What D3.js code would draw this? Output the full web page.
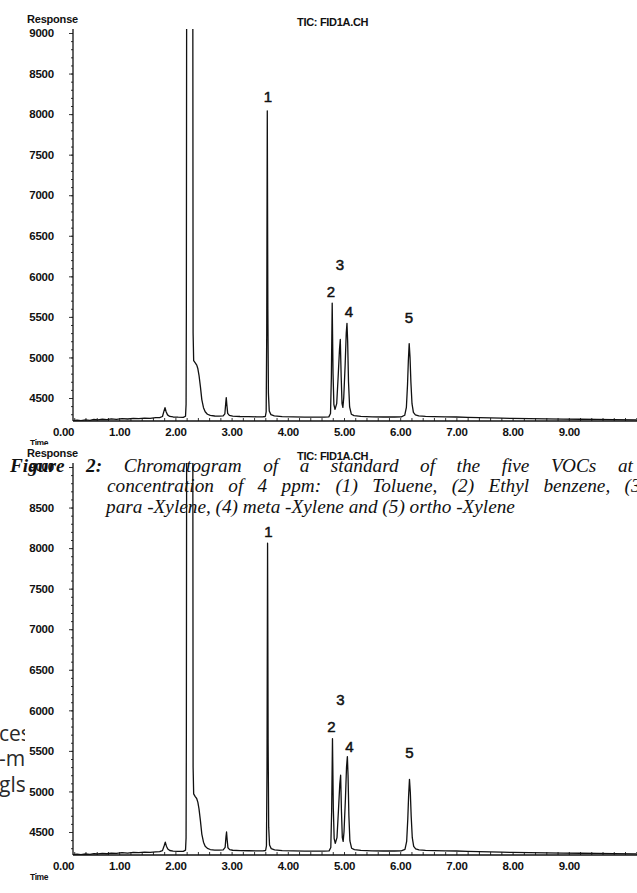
<!DOCTYPE html>
<html><head><meta charset="utf-8">
<script src="https://cdn.jsdelivr.net/npm/d3@7"></script>
<style>html,body{margin:0;padding:0;background:#fff}</style>
</head><body>
<svg id="c" width="637" height="893"></svg>
<script>
// ---------------- DATA ----------------
const xTickValues = [0,1,2,3,4,5,6,7,8,9];
const xTickLabels = ["0.00","1.00","2.00","3.00","4.00","5.00","6.00","7.00","8.00","9.00"];
const yTickValues = [4500,5000,5500,6000,6500,7000,7500,8000,8500,9000];
const yTickLabels = ["4500","5000","5500","6000","6500","7000","7500","8000","8500","9000"];
const peakLabels = ["1","2","3","4","5"];
const topLabelTime = [3.648,4.769,4.929,5.089,6.157];
const topLabelResp = [8211,5807,6140,5560,5486];
const bottomLabelTime = [3.655,4.775,4.935,5.095,6.165];
const bottomLabelResp = [8200,5800,6130,5550,5480];

// chromatogram trace: [time (min), response]
const topTrace = [[0.18,4222],[0.25,4227],[0.32,4221],[0.40,4230],[0.48,4225],[0.55,4235],[0.62,4230],[0.70,4238],[0.78,4233],[0.86,4242],[0.95,4237],[1.05,4246],[1.15,4241],[1.25,4250],[1.35,4246],[1.45,4253],[1.55,4250],[1.65,4257],[1.72,4258],[1.77,4272],[1.795,4335],[1.815,4380],[1.835,4330],[1.86,4292],[1.90,4273],[1.96,4266],[2.05,4263],[2.14,4262],[2.18,4275],[2.19,4420],[2.195,5600],[2.20,9300],[2.23,20000],[2.275,25000],[2.30,12000],[2.31,9300],[2.315,5300],[2.325,4960],[2.35,4935],[2.38,4905],[2.40,4860],[2.42,4780],[2.445,4640],[2.47,4480],[2.50,4380],[2.53,4330],[2.57,4300],[2.62,4285],[2.70,4278],[2.78,4276],[2.85,4279],[2.88,4305],[2.895,4430],[2.905,4505],[2.915,4420],[2.93,4310],[2.96,4285],[3.02,4276],[3.15,4272],[3.30,4270],[3.45,4268],[3.55,4268],[3.60,4272],[3.615,4330],[3.625,5300],[3.635,8040],[3.645,5600],[3.655,4560],[3.67,4340],[3.70,4295],[3.76,4280],[3.90,4271],[4.10,4267],[4.30,4265],[4.50,4264],[4.65,4264],[4.73,4267],[4.76,4310],[4.775,4750],[4.79,5670],[4.805,4800],[4.82,4420],[4.84,4360],[4.87,4430],[4.895,4750],[4.92,5100],[4.934,5222],[4.95,4760],[4.965,4430],[4.98,4385],[4.995,4500],[5.02,4900],[5.04,5300],[5.053,5420],[5.065,5200],[5.08,4700],[5.10,4390],[5.13,4300],[5.18,4282],[5.30,4273],[5.50,4268],[5.70,4266],[5.90,4266],[6.02,4268],[6.08,4287],[6.11,4385],[6.13,4660],[6.145,4960],[6.16,5170],[6.175,5000],[6.19,4700],[6.21,4430],[6.235,4322],[6.27,4292],[6.33,4279],[6.45,4273],[6.60,4270],[6.80,4268],[7.00,4266],[7.20,4262],[7.40,4258],[7.60,4255],[7.80,4251],[8.00,4248],[8.30,4245],[8.60,4243],[8.90,4240],[9.20,4238],[9.50,4236],[9.80,4233],[10.2,4231]];

const bottomTrace = [[0.18,4220],[0.25,4226],[0.32,4222],[0.40,4229],[0.48,4224],[0.55,4233],[0.62,4229],[0.70,4237],[0.78,4232],[0.86,4240],[0.95,4236],[1.05,4245],[1.15,4240],[1.25,4249],[1.35,4245],[1.45,4252],[1.55,4249],[1.65,4256],[1.72,4258],[1.77,4270],[1.80,4330],[1.82,4375],[1.84,4325],[1.865,4290],[1.90,4272],[1.96,4265],[2.05,4262],[2.14,4262],[2.18,4276],[2.19,4430],[2.195,5700],[2.20,9300],[2.23,20000],[2.275,25000],[2.30,12000],[2.31,9300],[2.315,5300],[2.325,4970],[2.35,4940],[2.38,4910],[2.40,4865],[2.42,4785],[2.445,4640],[2.47,4475],[2.50,4375],[2.53,4325],[2.57,4298],[2.62,4284],[2.70,4277],[2.78,4276],[2.85,4279],[2.885,4310],[2.90,4440],[2.91,4500],[2.92,4410],[2.935,4305],[2.965,4283],[3.02,4275],[3.15,4271],[3.30,4269],[3.45,4268],[3.56,4268],[3.605,4272],[3.62,4330],[3.63,5300],[3.64,8060],[3.65,5600],[3.66,4560],[3.675,4340],[3.705,4295],[3.765,4280],[3.90,4271],[4.10,4267],[4.30,4265],[4.50,4264],[4.65,4264],[4.735,4267],[4.765,4310],[4.78,4750],[4.795,5650],[4.81,4790],[4.825,4420],[4.845,4360],[4.875,4430],[4.90,4750],[4.925,5090],[4.94,5200],[4.955,4750],[4.97,4430],[4.985,4385],[5.00,4500],[5.025,4900],[5.045,5300],[5.06,5430],[5.072,5200],[5.087,4700],[5.105,4390],[5.135,4300],[5.185,4282],[5.30,4273],[5.50,4268],[5.70,4266],[5.90,4266],[6.02,4268],[6.085,4287],[6.115,4385],[6.135,4660],[6.15,4950],[6.165,5150],[6.18,4990],[6.195,4700],[6.215,4430],[6.24,4322],[6.275,4292],[6.335,4279],[6.45,4273],[6.60,4270],[6.80,4268],[7.00,4266],[7.20,4262],[7.40,4258],[7.60,4255],[7.80,4251],[8.00,4248],[8.30,4245],[8.60,4243],[8.90,4240],[9.20,4238],[9.50,4236],[9.80,4233],[10.2,4231]];

const captionLine1 = ["Figure","2:","Chromatogram","of","a","standard","of","the","five","VOCs","at","a"];
const captionLine2 = ["concentration","of","4","ppm:","(1)","Toluene,","(2)","Ethyl","benzene,","(3)"];
const captionLine3 = "para -Xylene, (4) meta -Xylene and (5) ortho -Xylene";
const slideFragments = ["ces","-m","gls"];

// ---------------- LAYOUT ----------------
const W = 637, H = 893;
const bottomOffset = 434;
const axisX = 73, axisTop = 29, axisBottom = 421;
const svg = d3.select("#c");
svg.append("rect").attr("width", W).attr("height", H).attr("fill", "#fff");

const x = d3.scaleLinear().domain([0, 10]).range([63, 625]);
const y = d3.scaleLinear().domain([4500, 9000]).range([398, 33]);

svg.append("defs").append("clipPath").attr("id", "plotclip")
  .append("rect").attr("x", axisX).attr("y", axisTop).attr("width", W - axisX).attr("height", axisBottom - axisTop);

// slide text fragments behind the lower chart
const slideY = [741, 766, 792];
const slide = svg.append("g")
  .attr("font-family", "'Open Sans','Liberation Sans',sans-serif")
  .attr("font-size", 21).attr("fill", "#2a2a2a");
slideFragments.forEach((s, i) => slide.append("text").attr("x", -1).attr("y", slideY[i]).text(s));

function panel(g, trace, lblT, lblV, withBg) {
  if (withBg) g.append("rect").attr("x", 25).attr("y", 11).attr("width", W - 25).attr("height", H).attr("fill", "#fff");
  const txt = s => s.attr("font-family", "'Liberation Sans',Arial,sans-serif").attr("font-weight", "bold").attr("fill", "#111");
  txt(g.append("text").attr("x", 27).attr("y", 23).attr("font-size", 11).attr("letter-spacing", -0.2).text("Response"));
  txt(g.append("text").attr("x", 297).attr("y", 26).attr("font-size", 11).attr("letter-spacing", -0.3).text("TIC: FID1A.CH"));
  txt(g.append("text").attr("x", 30).attr("y", 446).attr("font-size", 8.5).attr("letter-spacing", -0.4).text("Time"));

  // y axis
  const yMinor = d3.axisLeft(y).tickValues(d3.range(4300, 9001, 100)).tickSize(2).tickFormat("");
  const ym = g.append("g").attr("transform", `translate(${axisX},0)`).call(yMinor);
  ym.select(".domain").remove();
  const yAx = d3.axisLeft(y).tickValues(yTickValues).tickSize(4).tickPadding(15)
    .tickFormat((d, i) => yTickLabels[i]);
  const ya = g.append("g").attr("transform", `translate(${axisX},0)`).call(yAx);
  ya.select(".domain").remove();
  ya.selectAll("text").call(txt).attr("font-size", 11.5).attr("letter-spacing", -0.2);
  g.append("line").attr("x1", axisX).attr("x2", axisX).attr("y1", axisTop).attr("y2", axisBottom)
    .attr("stroke", "#111").attr("stroke-width", 1.3);

  // x axis
  const xMinor = d3.axisBottom(x).tickValues(d3.range(0.2, 10.21, 0.2)).tickSize(-3).tickFormat("");
  const xm = g.append("g").attr("transform", `translate(0,${axisBottom})`).call(xMinor);
  xm.select(".domain").remove();
  const xAx = d3.axisBottom(x).tickValues(xTickValues).tickSize(0).tickPadding(7)
    .tickFormat((d, i) => xTickLabels[i]);
  const xa = g.append("g").attr("transform", `translate(0,${axisBottom})`).call(xAx);
  xa.select(".domain").remove();
  xa.selectAll("text").call(txt).attr("font-size", 11.5).attr("letter-spacing", -0.3);
  g.append("line").attr("x1", axisX).attr("x2", W).attr("y1", axisBottom).attr("y2", axisBottom)
    .attr("stroke", "#111").attr("stroke-width", 1.3);
  g.selectAll(".tick line").attr("stroke", "#333");

  // trace
  const line = d3.line().x(d => x(d[0])).y(d => y(d[1]));
  g.append("path").datum(trace).attr("d", line).attr("clip-path", "url(#plotclip)")
    .attr("fill", "none").attr("stroke", "#111").attr("stroke-width", 1.3).attr("stroke-linejoin", "round");

  // peak labels
  g.selectAll(".pl").data(peakLabels).join("text")
    .attr("x", (d, i) => x(lblT[i])).attr("y", (d, i) => y(lblV[i])).attr("dy", "0.36em")
    .attr("text-anchor", "middle").attr("font-family", "'Liberation Sans',Arial,sans-serif")
    .attr("font-size", 15).attr("fill", "#111").attr("stroke", "#111").attr("stroke-width", 0.5)
    .text(d => d);
}

panel(svg.append("g"), topTrace, topLabelTime, topLabelResp, false);
panel(svg.append("g").attr("transform", `translate(0,${bottomOffset})`), bottomTrace, bottomLabelTime, bottomLabelResp, true);

// caption
const cap = svg.append("g").attr("font-family", "'Liberation Serif','Times New Roman',serif")
  .attr("font-style", "italic").attr("fill", "#111");
const probe = cap.append("text").attr("font-size", 19).text(captionLine3);
const w3 = probe.node().getComputedTextLength();
probe.remove();
const fs = 19 * 409 / w3;
const capY = [472, 492, 513];
function justify(words, x0, yy, boldCount, rightEdge) {
  const nodes = words.map((w, i) => cap.append("text").attr("font-size", fs).attr("y", yy)
    .attr("font-weight", i < boldCount ? "bold" : "normal").text(w));
  const widths = nodes.map(n => n.node().getComputedTextLength());
  const gap = (rightEdge - x0 - d3.sum(widths)) / (words.length - 1);
  let cx = x0;
  nodes.forEach((n, i) => { n.attr("x", cx); cx += widths[i] + gap; });
}
justify(captionLine1, 10, capY[0], 2, 664);
justify(captionLine2, 107, capY[1], 0, 647);
cap.append("text").attr("font-size", fs).attr("x", 106).attr("y", capY[2]).attr("xml:space", "preserve").text(captionLine3);
</script>
</body></html>
